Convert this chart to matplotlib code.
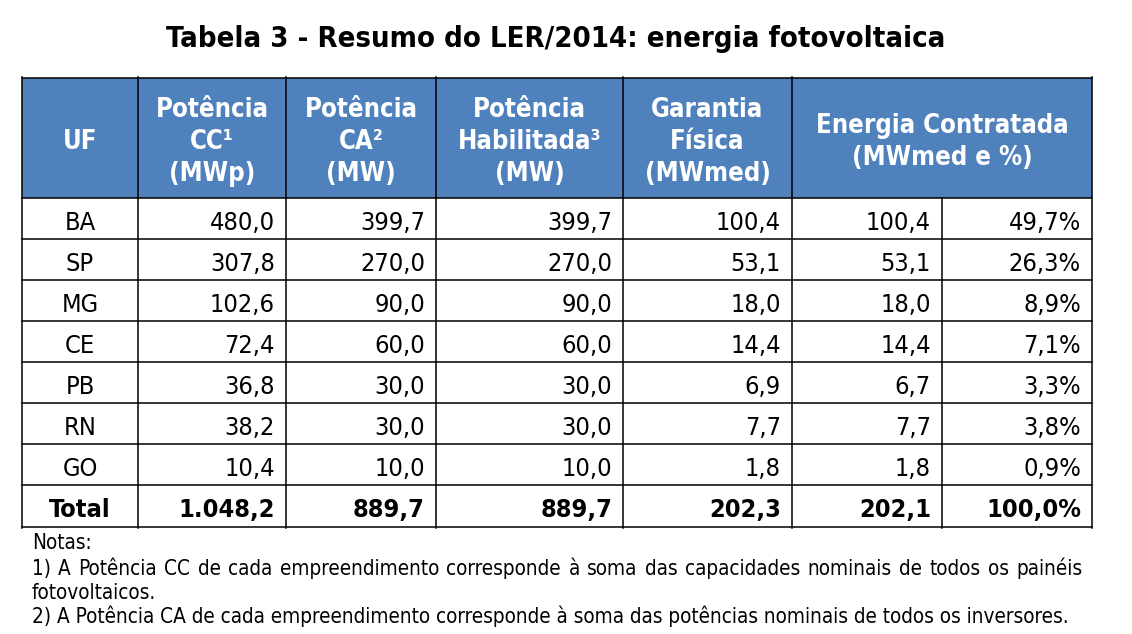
import matplotlib
matplotlib.use("Agg")
import matplotlib.pyplot as plt
from matplotlib import font_manager as fm
from matplotlib.patches import Rectangle

# ---------------- data ----------------
title = "Tabela 3 - Resumo do LER/2014: energia fotovoltaica"
headers = [["UF"],
           ["Potência", "CC¹", "(MWp)"],
           ["Potência", "CA²", "(MW)"],
           ["Potência", "Habilitada³", "(MW)"],
           ["Garantia", "Física", "(MWmed)"],
           ["Energia Contratada", "(MWmed e %)"]]
uf = ["BA", "SP", "MG", "CE", "PB", "RN", "GO"]
pot_cc = [480.0, 307.8, 102.6, 72.4, 36.8, 38.2, 10.4]
pot_ca = [399.7, 270.0, 90.0, 60.0, 30.0, 30.0, 10.0]
pot_hab = [399.7, 270.0, 90.0, 60.0, 30.0, 30.0, 10.0]
garantia = [100.4, 53.1, 18.0, 14.4, 6.9, 7.7, 1.8]
energia = [100.4, 53.1, 18.0, 14.4, 6.7, 7.7, 1.8]
energia_pct = [49.7, 26.3, 8.9, 7.1, 3.3, 3.8, 0.9]
total_label = "Total"
totals = [1048.2, 889.7, 889.7, 202.3, 202.1]
total_pct = 100.0
notes_head = "Notas:"
note1 = ("1) A Potência CC de cada empreendimento corresponde à soma das "
         "capacidades nominais de todos os painéis")
note1b = "fotovoltaicos."
note2 = ("2) A Potência CA de cada empreendimento corresponde à soma das "
         "potências nominais de todos os inversores.")


def br(v):
    s = f"{v:,.1f}"
    return s.replace(",", "X").replace(".", ",").replace("X", ".")


def brp(v):
    return br(v) + "%"


# ---------------- fonts ----------------
reg_file = bold_file = None
for f in fm.fontManager.ttflist:
    n = f.fname.replace("\\", "/").split("/")[-1]
    if n == "DejaVuSansCondensed.ttf":
        reg_file = f.fname
    if n == "DejaVuSansCondensed-Bold.ttf":
        bold_file = f.fname


def mkfp(bold, size):
    if bold and bold_file:
        fp = fm.FontProperties(fname=bold_file)
    elif (not bold) and reg_file:
        fp = fm.FontProperties(fname=reg_file)
    else:
        fp = fm.FontProperties(family="DejaVu Sans",
                               weight="bold" if bold else "normal")
    fp.set_size(size)
    return fp


# ---------------- figure ----------------
W, H = 1132, 634
fig = plt.figure(figsize=(W / 100, H / 100), dpi=100)
ax = fig.add_axes([0, 0, 1, 1])
ax.set_xlim(0, W)
ax.set_ylim(H, 0)
ax.axis("off")
fig.canvas.draw()
renderer = fig.canvas.get_renderer()


def width_px(s, bold, size=20):
    t = ax.text(0, 0, s, fontproperties=mkfp(bold, size))
    w = t.get_window_extent(renderer).width
    t.remove()
    return w


def fit(s, target, bold):
    return 20 * target / width_px(s, bold, 20)


# layout
cols = [22, 138, 286, 436, 623, 792, 942, 1092]
head_top, head_bot = 78, 198
row_h = 41
n = len(uf)
row_tops = [head_bot + i * row_h for i in range(n + 1)]
table_bot = row_tops[-1] + 42
header_color = "#4F81BD"
lw = 1.1

ax.add_patch(Rectangle((cols[0], head_top), cols[-1] - cols[0],
                       head_bot - head_top, facecolor=header_color,
                       edgecolor="none", zorder=1))

# lines
for y in [head_top, head_bot] + row_tops[1:] + [table_bot]:
    ax.plot([cols[0], cols[-1]], [y, y], color="black", lw=lw, zorder=3,
            solid_capstyle="projecting")
for i, x in enumerate(cols):
    y0 = head_bot if i == 6 else head_top - 1
    ax.plot([x, x], [y0, table_bot + 1], color="black", lw=lw, zorder=3,
            solid_capstyle="projecting")

# title
ts = fit(title, 780, True)
ax.text(556, 47, title, fontproperties=mkfp(True, ts), ha="center",
        va="baseline", color="black")

# header text
hs = fit("Potência", 113, True)
hfp = mkfp(True, hs)
centers = [(cols[i] + cols[i + 1]) / 2 for i in range(5)] + [(cols[5] + cols[7]) / 2]
for c, lines in zip(centers, headers):
    if len(lines) == 3:
        bases = [117, 149, 181]
    elif len(lines) == 2:
        bases = [133, 165]
    else:
        bases = [149]
    for b, s in zip(bases, lines):
        ax.text(c, b, s, fontproperties=hfp, ha="center", va="baseline",
                color="white", zorder=4)

# body
ds = fit("480,0", 65, False)
dfp = mkfp(False, ds)
dfpb = mkfp(True, ds)
pad = 11
series = [pot_cc, pot_ca, pot_hab, garantia, energia]
for r in range(n):
    base = row_tops[r] + 32
    ax.text((cols[0] + cols[1]) / 2, base, uf[r], fontproperties=dfp,
            ha="center", va="baseline", zorder=4)
    for j, ser in enumerate(series):
        ax.text(cols[j + 2] - pad, base, br(ser[r]), fontproperties=dfp,
                ha="right", va="baseline", zorder=4)
    ax.text(cols[7] - pad, base, brp(energia_pct[r]), fontproperties=dfp,
            ha="right", va="baseline", zorder=4)

base = row_tops[-1] + 32
ax.text((cols[0] + cols[1]) / 2, base, total_label, fontproperties=dfpb,
        ha="center", va="baseline", zorder=4)
for j, v in enumerate(totals):
    ax.text(cols[j + 2] - pad, base, br(v), fontproperties=dfpb,
            ha="right", va="baseline", zorder=4)
ax.text(cols[7] - pad, base, brp(total_pct), fontproperties=dfpb,
        ha="right", va="baseline", zorder=4)

# notes
ns = fit(note2, 1040, False)
nfp = mkfp(False, ns)
nx = 32
ax.text(nx, 549, notes_head, fontproperties=nfp, ha="left", va="baseline")
words = note1.split(" ")
ww = [width_px(w, False, ns) for w in words]
gap = (1082 - nx - sum(ww)) / (len(words) - 1)
x = nx
for w, wd in zip(words, ww):
    ax.text(x, 575, w, fontproperties=nfp, ha="left", va="baseline")
    x += wd + gap
ax.text(nx, 599, note1b, fontproperties=nfp, ha="left", va="baseline")
ax.text(nx, 623, note2, fontproperties=nfp, ha="left", va="baseline")

fig.savefig("out.png", dpi=100)
